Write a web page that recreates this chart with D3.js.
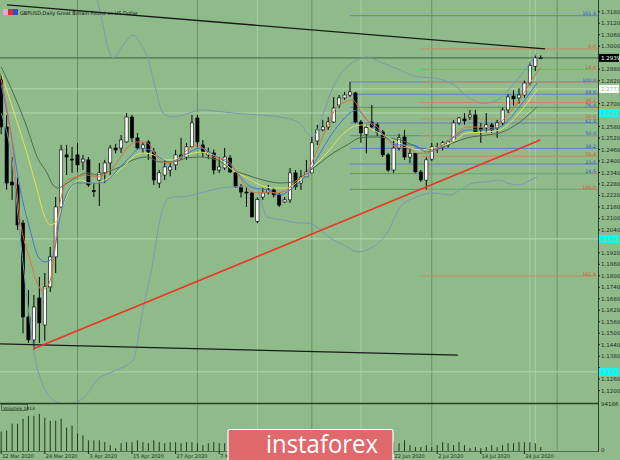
<!DOCTYPE html>
<html><head><meta charset="utf-8">
<script src="https://cdn.jsdelivr.net/npm/d3@7"></script>
<style>body{margin:0;background:#8fbb8b;}svg{display:block;font-family:"DejaVu Sans",sans-serif;}</style>
</head><body><svg id="c" width="620" height="460"></svg>
<script>
// ---------- DATA ----------
const symbolTitle = "GBPUSD,Daily   Great Britain Pound vs US Dollar";
const open  = [1.2824,1.2578,1.2290,1.2275,1.2076,1.1585,1.1465,1.1684,1.1543,1.1742,1.1899,1.2160,1.2432,1.2410,1.2432,1.2395,1.2406,1.2245,1.2300,1.2338,1.2390,1.2468,1.2468,1.2500,1.2630,1.2521,1.2466,1.2500,1.2447,1.2285,1.2327,1.2353,1.2380,1.2432,1.2421,1.2474,1.2625,1.2484,1.2432,1.2442,1.2353,1.2364,1.2416,1.2338,1.2265,1.2238,1.2233,1.2085,1.2212,1.2238,1.2249,1.2223,1.2186,1.2197,1.2338,1.2285,1.2317,1.2338,1.2505,1.2563,1.2578,1.2604,1.2693,1.2730,1.2745,1.2756,1.2604,1.2540,1.2604,1.2589,1.2552,1.2432,1.2353,1.2468,1.2526,1.2421,1.2440,1.2343,1.2300,1.2410,1.2474,1.2474,1.2484,1.2500,1.2599,1.2620,1.2630,1.2641,1.2573,1.2573,1.2589,1.2573,1.2599,1.2667,1.2740,1.2730,1.2745,1.2808,1.2895,1.2939];
const high  = [1.2860,1.2640,1.2421,1.2312,1.2092,1.1726,1.1700,1.1794,1.1815,1.1951,1.2212,1.2484,1.2484,1.2474,1.2495,1.2432,1.2421,1.2286,1.2390,1.2406,1.2484,1.2490,1.2536,1.2651,1.2641,1.2547,1.2500,1.2510,1.2468,1.2353,1.2406,1.2390,1.2458,1.2521,1.2495,1.2641,1.2641,1.2510,1.2470,1.2460,1.2421,1.2468,1.2432,1.2353,1.2280,1.2265,1.2238,1.2210,1.2259,1.2275,1.2260,1.2233,1.2212,1.2364,1.2353,1.2353,1.2406,1.2526,1.2589,1.2615,1.2630,1.2735,1.2745,1.2761,1.2813,1.2761,1.2615,1.2590,1.2693,1.2600,1.2563,1.2442,1.2510,1.2542,1.2563,1.2470,1.2442,1.2353,1.2420,1.2495,1.2495,1.2505,1.2510,1.2615,1.2630,1.2650,1.2667,1.2667,1.2599,1.2651,1.2599,1.2615,1.2680,1.2750,1.2770,1.2780,1.2820,1.2915,1.2955,1.2952];
const low   = [1.2540,1.2250,1.2197,1.2040,1.1500,1.1449,1.1413,1.1449,1.1460,1.1716,1.1815,1.2155,1.2327,1.2338,1.2343,1.2353,1.2265,1.2212,1.2165,1.2285,1.2327,1.2440,1.2442,1.2495,1.2500,1.2458,1.2440,1.2406,1.2275,1.2259,1.2301,1.2320,1.2353,1.2406,1.2406,1.2474,1.2474,1.2420,1.2410,1.2330,1.2338,1.2353,1.2338,1.2259,1.2210,1.2160,1.2103,1.2075,1.2197,1.2225,1.2210,1.2160,1.2181,1.2181,1.2249,1.2249,1.2317,1.2338,1.2484,1.2555,1.2562,1.2599,1.2677,1.2720,1.2735,1.2599,1.2495,1.2440,1.2570,1.2530,1.2421,1.2343,1.2338,1.2455,1.2406,1.2390,1.2338,1.2291,1.2252,1.2400,1.2442,1.2455,1.2470,1.2495,1.2589,1.2590,1.2615,1.2547,1.2495,1.2547,1.2547,1.2521,1.2585,1.2650,1.2690,1.2700,1.2730,1.2795,1.2870,1.2932];
const close = [1.2578,1.2285,1.2275,1.2066,1.1585,1.1465,1.1637,1.1554,1.1742,1.1899,1.2160,1.2458,1.2421,1.2405,1.2380,1.2410,1.2275,1.2240,1.2338,1.2390,1.2468,1.2458,1.2510,1.2630,1.2521,1.2468,1.2484,1.2447,1.2301,1.2338,1.2369,1.2369,1.2432,1.2421,1.2474,1.2599,1.2500,1.2447,1.2447,1.2353,1.2369,1.2421,1.2343,1.2265,1.2238,1.2233,1.2108,1.2200,1.2233,1.2250,1.2223,1.2170,1.2197,1.2338,1.2265,1.2317,1.2343,1.2495,1.2563,1.2578,1.2604,1.2677,1.2730,1.2745,1.2761,1.2604,1.2547,1.2575,1.2578,1.2552,1.2432,1.2353,1.2468,1.2521,1.2421,1.2440,1.2343,1.2301,1.2406,1.2474,1.2470,1.2495,1.2500,1.2599,1.2625,1.2610,1.2641,1.2552,1.2563,1.2589,1.2563,1.2599,1.2667,1.2735,1.2725,1.2745,1.2808,1.2900,1.2939,1.2939];
const volume = [40000,42000,56000,56000,66000,72000,72000,76000,68000,62000,62000,66000,48000,52000,36000,32000,22000,22000,22000,18000,12000,6000,16000,18000,18000,22000,18000,16000,22000,18000,16000,18000,18000,16000,18000,18000,16000,12000,16000,18000,16000,16000,17000,18000,16000,15000,19000,17000,16000,15000,14000,16000,8000,18000,17000,16000,15000,19000,18000,16000,15000,18000,16000,15000,19000,20000,18000,19000,17000,15000,18000,17000,18000,16000,22000,12000,8000,8000,12000,8000,12000,18000,16000,12000,18000,12000,6000,8000,6000,8000,12000,8000,12000,16000,16000,18000,18000,18000,16000,8000];
// moving averages [day index, price]
const maRed = [[0,1.2824],[2,1.2495],[3.4,1.2108],[5.3,1.1883],[6.6,1.1763],[7.5,1.1726],[8.4,1.1742],[9.3,1.1815],[9.9,1.1951],[10.4,1.2108],[11.2,1.2233],[12.1,1.2301],[13.9,1.2317],[15.7,1.2327],[17.6,1.2317],[19.4,1.2338],[21.2,1.2390],[23.1,1.2468],[24.9,1.2500],[26.8,1.2495],[28.6,1.2421],[30.4,1.2390],[32.3,1.2406],[34.1,1.2458],[35.9,1.2484],[38.9,1.2421],[41.4,1.2406],[43.3,1.2338],[45.1,1.2259],[47,1.2233],[48.8,1.2238],[50.6,1.2233],[52.4,1.2249],[54.3,1.2301],[56.1,1.2338],[57.2,1.2406],[58.5,1.2495],[59.8,1.2578],[60.9,1.2651],[62.7,1.2704],[64.5,1.2719],[65.8,1.2667],[67.1,1.2615],[69,1.2578],[70.8,1.2510],[72.6,1.2474],[74.5,1.2470],[76.5,1.2440],[78.1,1.2442],[80.5,1.2474],[82.9,1.2526],[85.5,1.2578],[87.9,1.2578],[90.3,1.2573],[91.5,1.2599],[93.5,1.2660],[95.5,1.2735],[97.5,1.2830],[99,1.2890]];
const maBlue = [[0,1.2798],[1.6,1.2578],[3.4,1.2265],[5.3,1.2040],[6.8,1.1899],[8,1.1873],[9,1.1883],[9.9,1.1951],[10.8,1.2108],[12.1,1.2233],[13.9,1.2285],[16.3,1.2285],[18.1,1.2285],[20,1.2312],[21.8,1.2369],[23.6,1.2421],[25.5,1.2468],[27.3,1.2458],[29.1,1.2416],[31,1.2395],[32.8,1.2416],[34.6,1.2447],[36.5,1.2468],[39.6,1.2421],[42.5,1.2369],[44.4,1.2301],[46.2,1.2259],[48.8,1.2249],[51.2,1.2223],[53,1.2249],[54.8,1.2291],[56.7,1.2353],[58.5,1.2442],[60.3,1.2526],[62.2,1.2599],[64,1.2651],[65.3,1.2667],[67.1,1.2615],[69,1.2563],[70.8,1.2521],[72.6,1.2484],[75.6,1.2484],[78.1,1.2447],[80.5,1.2474],[82.9,1.2521],[85.5,1.2563],[89.1,1.2563],[91.5,1.2578],[95,1.2680],[98.3,1.2808]];
const maYellow = [[0,1.2860],[2.2,1.2667],[4.7,1.2442],[6.6,1.2249],[8,1.2108],[9,1.2066],[9.9,1.2076],[11.2,1.2160],[12.6,1.2249],[14.5,1.2301],[16.3,1.2285],[18.1,1.2291],[20,1.2317],[22.4,1.2369],[24.2,1.2421],[26,1.2442],[27.9,1.2432],[29.7,1.2406],[31.5,1.2406],[34.1,1.2432],[36.5,1.2447],[39.6,1.2421],[42.5,1.2353],[45.1,1.2312],[47.5,1.2275],[49.9,1.2259],[52.4,1.2259],[54.8,1.2301],[57.2,1.2369],[59.8,1.2442],[62.2,1.2526],[64.5,1.2578],[66.4,1.2589],[68.2,1.2563],[70.8,1.2526],[72.6,1.2500],[76.9,1.2458],[79.2,1.2468],[82.9,1.2500],[85.5,1.2547],[89.1,1.2552],[91.5,1.2563],[95,1.2650],[98.3,1.2772]];
const maDark = [[0,1.2892],[2.2,1.2756],[4.7,1.2578],[6.6,1.2421],[8.4,1.2338],[9.5,1.2275],[10.4,1.2259],[12.1,1.2285],[13.9,1.2317],[15.7,1.2338],[17.6,1.2327],[19.4,1.2343],[21.8,1.2369],[24.2,1.2406],[26.8,1.2421],[29.1,1.2395],[31.5,1.2395],[34.1,1.2416],[36.5,1.2421],[39.6,1.2406],[42.5,1.2353],[45.1,1.2327],[48,1.2301],[51.2,1.2285],[53.5,1.2291],[56.1,1.2338],[58.5,1.2390],[60.9,1.2442],[63.5,1.2484],[65.8,1.2521],[68.2,1.2526],[70.8,1.2521],[73.2,1.2510],[76.9,1.2468],[79.2,1.2458],[82.9,1.2495],[85.5,1.2521],[89.1,1.2536],[91.5,1.2547],[95,1.2600],[98.3,1.2683]];
const bbUpper = [[15.5,1.3400],[17.6,1.3242],[20.5,1.2939],[22.5,1.3010],[24.2,1.3059],[25.6,1.3010],[26.9,1.2939],[28.3,1.2780],[29.7,1.2651],[31.5,1.2630],[34.6,1.2651],[36.5,1.2667],[42.5,1.2651],[46.9,1.2641],[51.2,1.2630],[54.8,1.2599],[56.1,1.2547],[57.2,1.2526],[59.1,1.2651],[60.9,1.2787],[63.5,1.2892],[65.3,1.2928],[67.1,1.2944],[69.5,1.2918],[73.2,1.2876],[76.3,1.2840],[79.2,1.2834],[81.1,1.2824],[83.6,1.2787],[85.5,1.2735],[86.6,1.2719],[88.4,1.2700],[91,1.2719],[93.4,1.2782],[96.1,1.2876],[98.3,1.2965]];
const bbLower = [[0,1.2650],[2,1.2400],[3.5,1.2000],[5,1.1620],[6.5,1.1330],[7.3,1.1256],[9.5,1.1151],[12,1.1128],[14,1.1141],[16,1.1190],[17.6,1.1256],[20.5,1.1300],[24.2,1.1360],[26,1.1622],[27.9,1.1883],[29.1,1.2092],[30.4,1.2197],[31.5,1.2212],[34,1.2215],[36.5,1.2233],[42.5,1.2265],[46.6,1.2265],[48.8,1.2108],[51.7,1.2092],[54.8,1.2076],[56.1,1.2076],[60.9,1.1988],[63.5,1.1951],[65.3,1.1925],[68.2,1.1951],[70.8,1.2024],[73.2,1.2160],[76,1.2210],[79.2,1.2233],[82.4,1.2223],[84.2,1.2249],[86.6,1.2285],[89.1,1.2291],[91.5,1.2301],[92.8,1.2285],[95.2,1.2275],[96.5,1.2291],[98.3,1.2317]];
// Fibonacci sets (labels shown only where not hidden by the other set)
const fibLevels = [0,14.6,23.6,38.2,50,61.8,76.4,88.6,100,161.8];
const fibBlueShown   = [false,true,true,true,true,true,true,true,true,true];
const fibOrangeShown = [true,true,false,true,true,false,true,false,true,true];
const fibBlue = {from:64, p0:1.2252, p100:1.2813};
const fibOrange = {from:77, p0:1.2986, p100:1.2252};
// trend lines [index, price]
const trendTop = [[1.07,1.3216],[99.8,1.2986]];
const trendBottom = [[-0.2,1.1444],[83.8,1.1386]];
const trendRed = [[5.84,1.1418],[98.9,1.2510]];
// horizontal levels with axis boxes
const levelLines = [1.2777,1.2651,1.1993,1.1298];
const levelBoxColors = ["#ffffff","#00ffff","#00ffff","#00ffff"];
const lastPrice = 1.2939;
// separators
const monthStarts = [14,36,57,79,102];
const markerDays = [47,66,97,98];
// axes labels (dates hidden under the watermark are not drawn)
const priceTicks = [1.3180,1.3120,1.3060,1.3000,1.2940,1.2880,1.2820,1.2760,1.2700,1.2640,1.2580,1.2520,1.2460,1.2400,1.2340,1.2280,1.2220,1.2160,1.2100,1.2040,1.1980,1.1920,1.1860,1.1800,1.1740,1.1680,1.1620,1.1560,1.1500,1.1440,1.1380,1.1320,1.1260,1.1200];
const dateTickDays = [0,8,16,24,32,40,72,80,88,96];
const dateTickText = ["12 Mar 2020","24 Mar 2020","3 Apr 2020","15 Apr 2020","27 Apr 2020","7 May 2020","22 Jun 2020","2 Jul 2020","14 Jul 2020","24 Jul 2020"];
const volumeMax = 94186;
const volumeTitle = "Volumes 1813";

// ---------- DRAW ----------
const svg = d3.select("#c");
const plotR = 598, mainB = 403, volT = 404, volB = 451;
const x = d3.scaleLinear().domain([-0.22,109.5]).range([0,plotR]);
const y = d3.scaleLinear().domain([1.1440,1.3180]).range([344.7,11.8]);
const yv = d3.scaleLinear().domain([0,volumeMax]).range([volB,volT+1]);

svg.append("rect").attr("width",620).attr("height",460).attr("fill","#8fbb8b");
const defs = svg.append("defs");
defs.append("clipPath").attr("id","mc").append("rect").attr("x",0).attr("y",0).attr("width",plotR).attr("height",mainB);
defs.append("clipPath").attr("id","vc").append("rect").attr("x",0).attr("y",volT).attr("width",plotR).attr("height",volB-volT+1);

// separators
const sep = svg.append("g");
sep.selectAll("line.m").data(monthStarts).join("line").attr("x1",d=>x(d)).attr("x2",d=>x(d)).attr("y1",0).attr("y2",volB)
  .attr("stroke","#6a8f67").attr("stroke-width",1);
sep.selectAll("line.k").data(markerDays).join("line").attr("x1",d=>x(d)).attr("x2",d=>x(d)).attr("y1",0).attr("y2",volB)
  .attr("stroke","#a9cfa5").attr("stroke-width",1);

const g = svg.append("g").attr("clip-path","url(#mc)");
// horizontal level lines
g.selectAll("line.lv").data(levelLines).join("line").attr("x1",0).attr("x2",plotR).attr("y1",d=>y(d)).attr("y2",d=>y(d))
  .attr("stroke","#b4d8b0").attr("stroke-width",1);
g.append("line").attr("x1",0).attr("x2",plotR).attr("y1",y(lastPrice)).attr("y2",y(lastPrice)).attr("stroke","#3f5f3f").attr("stroke-width",1);

// fibonacci lines
const fibSets = [[fibBlue,fibBlueShown,"#5d7fc4","#2f4fd0"],[fibOrange,fibOrangeShown,"#c98a5e","#d0502a"]];
const fibLabels = [];
fibSets.forEach(([f,shown,color,labelColor])=>{
  const lv = fibLevels.map((l,i)=>({l, s:shown[i], p:f.p0+(f.p100-f.p0)*l/100, c:labelColor}));
  g.selectAll(null).data(lv).join("line").attr("x1",x(f.from)).attr("x2",plotR).attr("y1",d=>y(d.p)).attr("y2",d=>y(d.p))
    .attr("stroke",color).attr("stroke-width",1);
  lv.filter(d=>d.s).forEach(d=>fibLabels.push({t:d.l.toFixed(1), c:d.c, ly:y(d.p)-0.5}));
});
// push apart labels that would collide
fibLabels.sort((a,b)=>a.ly-b.ly);
for(let k=1;k<fibLabels.length;k++){
  if(fibLabels[k].ly-fibLabels[k-1].ly<5){
    const mid=(fibLabels[k].ly+fibLabels[k-1].ly)/2;
    fibLabels[k-1].ly=mid-2.6; fibLabels[k].ly=mid+2.6;
  }
}

// candles
const idx = d3.range(open.length);
g.selectAll("line.w").data(idx).join("line").attr("x1",i=>x(i)).attr("x2",i=>x(i)).attr("y1",i=>y(high[i])).attr("y2",i=>y(low[i]))
  .attr("stroke","#000").attr("stroke-width",1);
g.selectAll("rect.b").data(idx).join("rect").attr("x",i=>x(i)-1.6).attr("width",3.2)
  .attr("y",i=>y(Math.max(open[i],close[i]))).attr("height",i=>Math.max(0.8,Math.abs(y(open[i])-y(close[i]))))
  .attr("fill",i=>close[i]>=open[i]?"#ffffff":"#000000").attr("stroke","#000").attr("stroke-width",0.6);

// indicators
const ln = d3.line().x(d=>x(d[0])).y(d=>y(d[1])).curve(d3.curveMonotoneX);
[[bbUpper,"#7a98b4"],[bbLower,"#7a98b4"],[maDark,"#4b6b4b"],[maYellow,"#dfe35c"],[maBlue,"#3c78d8"],[maRed,"#dc6e48"]].forEach(([d,c])=>{
  g.append("path").attr("d",ln(d)).attr("fill","none").attr("stroke",c).attr("stroke-width",1);
});

// trend lines
const tl = d3.line().x(d=>x(d[0])).y(d=>y(d[1]));
g.append("path").attr("d",tl(trendTop)).attr("stroke","#1a1a1a").attr("stroke-width",1.3).attr("fill","none");
g.append("path").attr("d",tl(trendBottom)).attr("stroke","#1a1a1a").attr("stroke-width",1.3).attr("fill","none");
g.append("path").attr("d",tl(trendRed)).attr("stroke","#ee3322").attr("stroke-width",1.6).attr("fill","none");

// fib labels
g.selectAll("text.fib").data(fibLabels).join("text").attr("x",plotR-2).attr("y",d=>d.ly).attr("text-anchor","end")
  .attr("font-size",4.8).attr("fill",d=>d.c).text(d=>d.t);

// title
svg.append("rect").attr("x",3).attr("y",9).attr("width",5).attr("height",6).attr("fill","#e8a8d0");
svg.append("rect").attr("x",8).attr("y",9).attr("width",5).attr("height",6).attr("fill","#d83030");
svg.append("rect").attr("x",13).attr("y",9).attr("width",5).attr("height",6).attr("fill","#3050c8");
svg.append("text").attr("x",20).attr("y",14.5).attr("font-size",5).attr("fill","#111").text(symbolTitle);

// panel separator and borders
svg.append("line").attr("x1",0).attr("x2",plotR).attr("y1",mainB+0.5).attr("y2",mainB+0.5).attr("stroke","#26402a").attr("stroke-width",1.6);
svg.append("line").attr("x1",plotR+0.5).attr("x2",plotR+0.5).attr("y1",0).attr("y2",volB+1).attr("stroke","#26402a").attr("stroke-width",1);

// price axis (tick labels under the level boxes are covered, so not drawn)
const boxedPrices = levelLines.concat([lastPrice]);
const visibleTicks = priceTicks.filter(t => boxedPrices.every(b => Math.abs(y(t)-y(b)) > 6));
const ax = svg.append("g");
ax.selectAll("line").data(priceTicks).join("line").attr("x1",plotR).attr("x2",plotR+2).attr("y1",d=>y(d)).attr("y2",d=>y(d)).attr("stroke","#222");
ax.selectAll("text").data(visibleTicks).join("text").attr("x",plotR+3).attr("y",d=>y(d)+2).attr("font-size",5.5).attr("fill","#1b2a1b").text(d=>d.toFixed(4));
// level boxes
const bx = svg.append("g");
bx.selectAll("rect").data(levelLines).join("rect").attr("x",plotR+1).attr("y",d=>y(d)-4).attr("width",20).attr("height",8)
  .attr("fill",(d,i)=>levelBoxColors[i]);
bx.selectAll("text").data(levelLines).join("text").attr("x",plotR+3).attr("y",d=>y(d)+2).attr("font-size",5.5).attr("fill","#8fbb8b").text(d=>d.toFixed(4));
svg.append("rect").attr("x",plotR+1).attr("y",y(lastPrice)-4).attr("width",20).attr("height",8).attr("fill","#000");
svg.append("text").attr("x",plotR+3).attr("y",y(lastPrice)+2).attr("font-size",5.5).attr("fill","#fff").text(lastPrice.toFixed(4));

// volume
const vg = svg.append("g").attr("clip-path","url(#vc)");
vg.selectAll("line").data(idx).join("line").attr("x1",i=>x(i)).attr("x2",i=>x(i)).attr("y1",yv(0)).attr("y2",i=>yv(volume[i]))
  .attr("stroke","#1f3a1f").attr("stroke-width",1);
svg.append("rect").attr("x",1.5).attr("y",404.5).attr("width",26).attr("height",6).attr("fill","none").attr("stroke","#2a402a").attr("stroke-width",0.6);
svg.append("text").attr("x",3).attr("y",409.5).attr("font-size",4.5).attr("fill","#111").text(volumeTitle);
svg.append("text").attr("x",plotR+3).attr("y",406).attr("font-size",5.5).attr("fill","#1b2a1b").text(String(volumeMax));
svg.append("text").attr("x",plotR+3).attr("y",yv(0)+1).attr("font-size",5.5).attr("fill","#1b2a1b").text("0");
svg.append("line").attr("x1",0).attr("x2",plotR).attr("y1",volB+0.5).attr("y2",volB+0.5).attr("stroke","#26402a").attr("stroke-width",0.6);

// date axis
const da = svg.append("g");
da.selectAll("line").data(dateTickDays).join("line").attr("x1",d=>x(d)).attr("x2",d=>x(d)).attr("y1",volB).attr("y2",volB+3).attr("stroke","#222");
da.selectAll("text").data(dateTickDays).join("text").attr("x",d=>x(d)+1).attr("y",457.5).attr("font-size",5).attr("fill","#1b2a1b").text((d,i)=>dateTickText[i]);

// watermark
svg.append("rect").attr("x",228).attr("y",429.5).attr("width",165).attr("height",40).attr("rx",2).attr("fill","#e0696b").attr("stroke","#fff").attr("stroke-width",1.2);
svg.append("text").attr("x",266).attr("y",453).attr("font-size",26).attr("font-family","'Open Sans',sans-serif").attr("fill","#fff")
  .attr("textLength",112).attr("lengthAdjust","spacingAndGlyphs").text("instaforex");
</script>
</body></html>
